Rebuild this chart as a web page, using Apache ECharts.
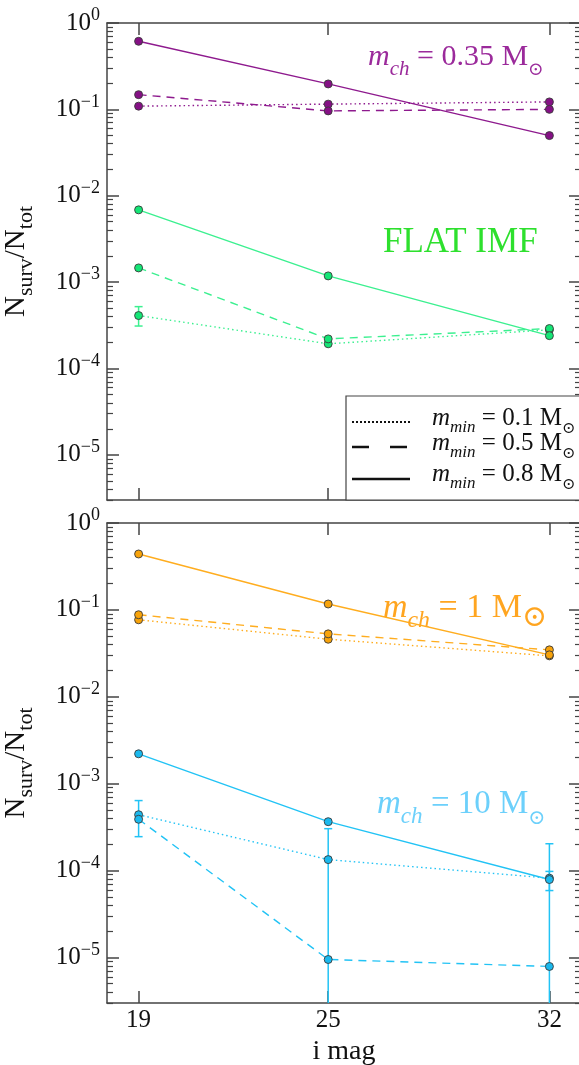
<!DOCTYPE html>
<html><head><meta charset="utf-8">
<script src="https://cdn.jsdelivr.net/npm/echarts@6/dist/echarts.min.js"></script>
<style>html,body{margin:0;padding:0;background:#fff}#c{width:579px;height:1065px}</style>
</head><body><div id="c"></div>
<script>
// ---- data ----
const mags = [19, 25, 32];
const majorTicks = [1e-5, 1e-4, 1e-3, 1e-2, 1e-1, 1];
const minorMult = [2, 3, 4, 5, 6, 7, 8, 9];
const minorDecades = [1e-6, 1e-5, 1e-4, 1e-3, 1e-2, 1e-1];
const yMin = 3e-6, yMax = 1;
const xMin = 18, xMax = 33;

const purpleDot   = [0.109, 0.115, 0.122];
const purpleDash  = [0.148, 0.096, 0.100];
const purpleSolid = [0.614, 0.197, 0.0497];
const greenDot    = [4.1e-4, 1.93e-4, 2.8e-4];
const greenDash   = [1.46e-3, 2.2e-4, 2.9e-4];
const greenSolid  = [6.86e-3, 1.18e-3, 2.4e-4];
const orangeDot   = [0.077, 0.046, 0.0296];
const orangeDash  = [0.088, 0.053, 0.0347];
const orangeSolid = [0.44, 0.117, 0.0304];
const blueDot     = [4.4e-4, 1.34e-4, 8.2e-5];
const blueDash    = [3.9e-4, 9.5e-6, 7.9e-6];
const blueSolid   = [2.21e-3, 3.66e-4, 7.9e-5];
// error bars: [x, low, high]; null low = extends below the axis
const greenErr = [[19, 3.1e-4, 5.2e-4]];
const blueErr  = [[19, 2.46e-4, 6.4e-4], [25, null, 3.04e-4], [32, null, 2.04e-4], [32, 5.9e-5, 9.8e-5]];

// ---- style ----
const serif = "'Liberation Serif','DejaVu Serif',serif";
const axisColor = '#444';
const C = {
  purple: {line: '#8e1a8e', mark: '#851085', text: '#9b2a9b'},
  green:  {line: '#3cf090', mark: '#14e676', text: '#2ee02e'},
  orange: {line: '#ffad1f', mark: '#f8a30a', text: '#ffa520'},
  blue:   {line: '#22c3f5', mark: '#1ab9ee', text: '#6cd0fb'}
};
const minorTicks = [];
minorDecades.forEach(d => minorMult.forEach(m => { const v = m * d; if (v >= yMin * 0.999 && v < yMax) minorTicks.push(v); }));

const labelRich = {
  b: {fontFamily: serif, fontSize: 25, lineHeight: 33, verticalAlign: 'middle', color: '#111'},
  s: {fontFamily: serif, fontSize: 18, lineHeight: 18, verticalAlign: 'top', color: '#111'}
};
function logFmt(v) {
  const e = Math.round(Math.log10(v));
  return '{b|10}{s|' + (e < 0 ? '\u2212' + (-e) : e) + '}';
}

function xAx(grid, pos, showLabel, name) {
  return {
    type: 'value', gridIndex: grid, position: pos, min: xMin, max: xMax,
    axisLine: {show: true, onZero: false, lineStyle: {color: axisColor, width: 1.5}},
    axisTick: {show: true, inside: true, length: 12, customValues: mags, lineStyle: {color: axisColor, width: 1.5}},
    axisLabel: {show: showLabel, customValues: mags, margin: 5, fontFamily: serif, fontSize: 25, color: '#111'},
    splitLine: {show: false},
    name: name || '', nameLocation: 'middle', nameGap: 35,
    nameTextStyle: {fontFamily: serif, fontSize: 28, color: '#111'}
  };
}
function yAx(grid, pos, major, showLabel, withName) {
  const a = {
    type: 'log', logBase: 10, gridIndex: grid, position: pos, min: yMin, max: yMax,
    axisLine: {show: major, onZero: false, lineStyle: {color: axisColor, width: 1.5}},
    axisTick: {show: true, inside: true, length: major ? 12 : 6, customValues: major ? majorTicks : minorTicks,
               lineStyle: {color: axisColor, width: major ? 1.5 : 1.2}},
    axisLabel: {show: showLabel, customValues: majorTicks, margin: 7, formatter: logFmt, rich: labelRich},
    splitLine: {show: false}, minorTick: {show: false}
  };
  if (withName) {
    a.name = '{n|N}{s|surv}{n|/N}{s|tot}';
    a.nameLocation = 'middle'; a.nameRotate = 90; a.nameGap = 70;
    a.nameTextStyle = {rich: {
      n: {fontFamily: serif, fontSize: 29, lineHeight: 35, verticalAlign: 'top', color: '#111'},
      s: {fontFamily: serif, fontSize: 22, lineHeight: 22, verticalAlign: 'bottom', color: '#111'}
    }};
  }
  return a;
}

function line(vals, col, kind, xi, yi) {
  return {
    type: 'line', xAxisIndex: xi, yAxisIndex: yi,
    data: mags.map((m, i) => [m, vals[i]]),
    symbol: 'circle', symbolSize: 8, showSymbol: true,
    lineStyle: {color: col.line, width: 1.4, type: kind === 'dot' ? [1.5, 3] : (kind === 'dash' ? [8, 6] : 'solid')},
    itemStyle: {color: col.mark, borderColor: '#3a3a3a', borderWidth: 0.9},
    emphasis: {disabled: true}, silent: true, z: 3
  };
}
function errSeries(data, col, xi, yi) {
  return {
    type: 'custom', xAxisIndex: xi, yAxisIndex: yi, data: data, z: 2, silent: true, clip: true,
    encode: {x: 0, y: [1, 2]},
    renderItem: function (params, api) {
      const x = api.value(0), lo = api.value(1), hi = api.value(2);
      const cs = params.coordSys;
      const top = api.coord([x, hi]);
      const hasLo = lo > 0;
      const by = hasLo ? api.coord([x, lo])[1] : cs.y + cs.height;
      const cap = 4;
      const st = {stroke: col.line, lineWidth: 1.5};
      const ch = [
        {type: 'line', shape: {x1: top[0], y1: top[1], x2: top[0], y2: by}, style: st},
        {type: 'line', shape: {x1: top[0] - cap, y1: top[1], x2: top[0] + cap, y2: top[1]}, style: st}
      ];
      if (hasLo) ch.push({type: 'line', shape: {x1: top[0] - cap, y1: by, x2: top[0] + cap, y2: by}, style: st});
      return {type: 'group', children: ch};
    }
  };
}

function annot(x, y, num, col, size, sunSize) {
  const s = size || 30;
  const o = sunSize || s * 0.62;
  return {
    type: 'text', x: x, y: y, z: 10,
    style: {
      text: '{i|m}{is|ch}{n| = ' + num + ' M}{o|\u2299}',
      verticalAlign: 'middle', align: 'left', fill: col,
      rich: {
        i:  {fontFamily: serif, fontStyle: 'italic', fontSize: s, lineHeight: s + 8, verticalAlign: 'top', fill: col},
        is: {fontFamily: serif, fontStyle: 'italic', fontSize: s * 0.7, lineHeight: s * 0.7, verticalAlign: 'bottom', fill: col},
        n:  {fontFamily: serif, fontSize: s, lineHeight: s + 8, verticalAlign: 'top', fill: col},
        o:  {fontFamily: serif, fontSize: o, lineHeight: o, verticalAlign: 'bottom', fill: col}
      }
    }
  };
}
function legendText(y, num) {
  return {
    type: 'text', x: 432, y: y, z: 21,
    style: {
      text: '{i|m}{is|min}{n| = ' + num + ' M}{o|\u2299}',
      verticalAlign: 'middle', align: 'left', fill: '#111',
      rich: {
        i:  {fontFamily: serif, fontStyle: 'italic', fontSize: 25, lineHeight: 31, verticalAlign: 'top', fill: '#111'},
        is: {fontFamily: serif, fontStyle: 'italic', fontSize: 17, lineHeight: 17, verticalAlign: 'bottom', fill: '#111'},
        n:  {fontFamily: serif, fontSize: 25, lineHeight: 31, verticalAlign: 'top', fill: '#111'},
        o:  {fontFamily: serif, fontSize: 16, lineHeight: 16, verticalAlign: 'bottom', fill: '#111'}
      }
    }
  };
}

const chart = echarts.init(document.getElementById('c'), null, {renderer: 'canvas'});
chart.setOption({
  animation: false,
  backgroundColor: '#fff',
  grid: [
    {left: 107, top: 23, width: 474, height: 477, outerBoundsMode: 'none'},
    {left: 107, top: 523, width: 474, height: 480, outerBoundsMode: 'none'}
  ],
  xAxis: [xAx(0, 'bottom', false), xAx(0, 'top', false), xAx(1, 'bottom', true, 'i mag'), xAx(1, 'top', false)],
  yAxis: [
    yAx(0, 'left', true, true, true), yAx(0, 'left', false, false, false),
    yAx(0, 'right', true, false, false), yAx(0, 'right', false, false, false),
    yAx(1, 'left', true, true, true), yAx(1, 'left', false, false, false),
    yAx(1, 'right', true, false, false), yAx(1, 'right', false, false, false)
  ],
  series: [
    errSeries(greenErr, C.green, 0, 0),
    line(purpleDot, C.purple, 'dot', 0, 0),
    line(purpleDash, C.purple, 'dash', 0, 0),
    line(purpleSolid, C.purple, 'solid', 0, 0),
    line(greenDot, C.green, 'dot', 0, 0),
    line(greenDash, C.green, 'dash', 0, 0),
    line(greenSolid, C.green, 'solid', 0, 0),
    errSeries(blueErr, C.blue, 2, 4),
    line(orangeDot, C.orange, 'dot', 2, 4),
    line(orangeDash, C.orange, 'dash', 2, 4),
    line(orangeSolid, C.orange, 'solid', 2, 4),
    line(blueDot, C.blue, 'dot', 2, 4),
    line(blueDash, C.blue, 'dash', 2, 4),
    line(blueSolid, C.blue, 'solid', 2, 4)
  ],
  graphic: [
    annot(368, 61, '0.35', C.purple.text, 30),
    {type: 'text', x: 383, y: 243, z: 10, style: {text: 'FLAT IMF', fill: C.green.text, fontFamily: serif, fontSize: 35, verticalAlign: 'middle'}},
    annot(383, 612, '1', C.orange.text, 34, 30),
    annot(377, 808, '10', C.blue.text, 33),
    {type: 'rect', z: 20, shape: {x: 346, y: 396, width: 240, height: 104}, style: {fill: '#fff', stroke: '#444', lineWidth: 1.2}},
    {type: 'line', z: 21, shape: {x1: 352, y1: 422, x2: 410, y2: 422}, style: {stroke: '#111', lineWidth: 2, lineDash: [2, 2]}},
    {type: 'line', z: 21, shape: {x1: 352, y1: 447, x2: 410, y2: 447}, style: {stroke: '#111', lineWidth: 2.5, lineDash: [17, 21]}},
    {type: 'line', z: 21, shape: {x1: 352, y1: 479, x2: 410, y2: 479}, style: {stroke: '#111', lineWidth: 2.5}},
    legendText(421, '0.1'),
    legendText(446, '0.5'),
    legendText(477, '0.8')
  ]
});
</script></body></html>
